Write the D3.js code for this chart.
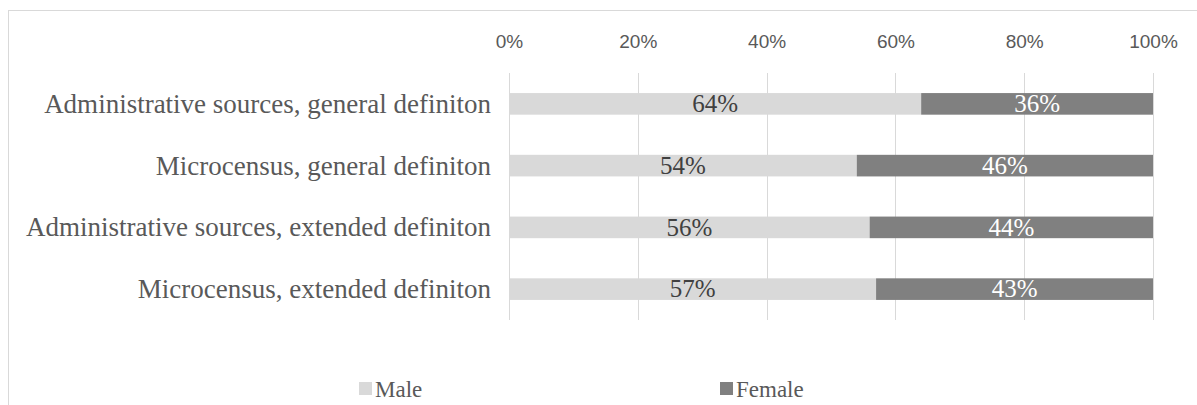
<!DOCTYPE html>
<html><head><meta charset="utf-8">
<script src="https://cdn.jsdelivr.net/npm/d3@7"></script>
<style>body{margin:0;background:#fff}svg{display:block}</style>
</head><body>
<script>
const categories = ["Administrative sources, general definiton","Microcensus, general definiton","Administrative sources, extended definiton","Microcensus, extended definiton"];
const male = [0.64, 0.54, 0.56, 0.57];
const female = [0.36, 0.46, 0.44, 0.43];
const seriesNames = ["Male","Female"];
const tickValues = [0, 0.2, 0.4, 0.6, 0.8, 1.0];

const SERIF = "'Liberation Serif', 'Times New Roman', serif";
const SANS = "'Liberation Sans', Arial, sans-serif";
const W = 1197, H = 405;
const svg = d3.select("body").append("svg").attr("width", W).attr("height", H);
svg.append("rect").attr("x", 8.5).attr("y", 10.5).attr("width", W).attr("height", H)
  .attr("fill", "#fff").attr("stroke", "#d9d9d9").attr("stroke-width", 1);

const x = d3.scaleLinear().domain([0, 1]).range([509, 1153]);
const y = d3.scaleBand().domain(categories).range([73, 320]).paddingInner(0.65).paddingOuter(0.325);

svg.append("g").selectAll("line").data(tickValues).join("line")
  .attr("x1", d => Math.round(x(d)) + 0.5).attr("x2", d => Math.round(x(d)) + 0.5)
  .attr("y1", 73).attr("y2", 320).attr("stroke", "#d9d9d9").attr("stroke-width", 1);

const ax = svg.append("g").attr("transform", "translate(0,48)")
  .call(d3.axisTop(x).tickValues(tickValues).tickFormat(d3.format(".0%")).tickSize(0).tickPadding(0));
ax.select(".domain").remove();
ax.selectAll("text").attr("font-family", SANS).attr("font-size", 19).attr("fill", "#595959").attr("dy", 0);

const ay = svg.append("g").attr("transform", "translate(491,0)")
  .call(d3.axisLeft(y).tickSize(0).tickPadding(0));
ay.select(".domain").remove();
ay.selectAll("text").attr("font-family", SERIF).attr("font-size", 27).attr("fill", "#595959").attr("dy", "0.33em");

const data = categories.map((c, i) => ({c, m: male[i], f: female[i]}));
const g = svg.append("g");
g.selectAll(".m").data(data).join("rect").attr("class","m")
  .attr("x", x(0)).attr("y", d => y(d.c)).attr("width", d => x(d.m) - x(0)).attr("height", y.bandwidth())
  .attr("fill", "#d9d9d9");
g.selectAll(".f").data(data).join("rect").attr("class","f")
  .attr("x", d => x(d.m)).attr("y", d => y(d.c)).attr("width", d => x(d.m + d.f) - x(d.m)).attr("height", y.bandwidth())
  .attr("fill", "#808080");
const fmt = d3.format(".0%");
g.selectAll(".ml").data(data).join("text")
  .attr("x", d => x(d.m / 2)).attr("y", d => y(d.c) + y.bandwidth()/2).attr("dy", "0.33em")
  .attr("text-anchor", "middle").attr("font-family", SERIF).attr("font-size", 25)
  .attr("fill", "#404040").text(d => fmt(d.m));
g.selectAll(".fl").data(data).join("text")
  .attr("x", d => x(d.m + d.f / 2)).attr("y", d => y(d.c) + y.bandwidth()/2).attr("dy", "0.33em")
  .attr("text-anchor", "middle").attr("font-family", SERIF).attr("font-size", 25)
  .attr("fill", "#ffffff").text(d => fmt(d.f));

const colors = ["#d9d9d9", "#808080"];
const legX = [359, 720];
const leg = svg.append("g");
seriesNames.forEach((s, i) => {
  leg.append("rect").attr("x", legX[i]).attr("y", 382).attr("width", 13).attr("height", 13).attr("fill", colors[i]);
  leg.append("text").attr("x", legX[i] + 16).attr("y", 397)
    .attr("font-family", SERIF).attr("font-size", 23).attr("fill", "#595959").text(s);
});
</script>
</body></html>
